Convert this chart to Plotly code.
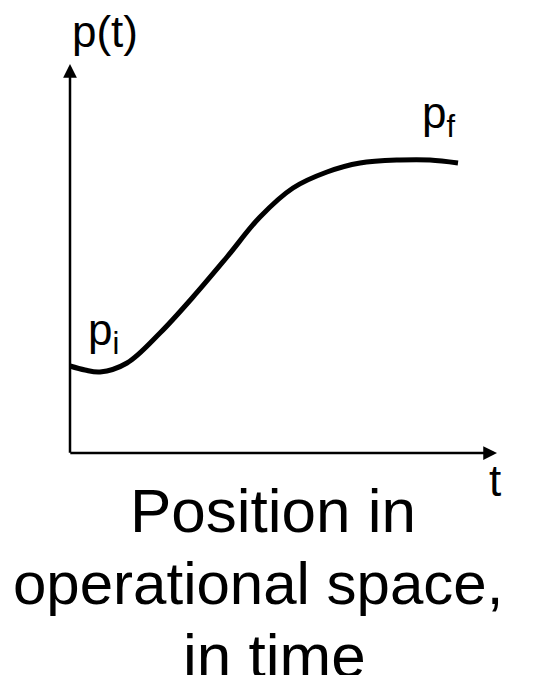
import plotly.graph_objects as go

# curve data (t, p)
t_vals = [0.0, 0.15, 0.30, 0.57, 0.90, 1.23, 1.57, 1.90, 2.23, 2.57, 2.90, 3.30, 3.60, 3.88]
p_vals = [0.87, 0.83, 0.81, 0.90, 1.20, 1.56, 1.96, 2.36, 2.65, 2.81, 2.90, 2.93, 2.93, 2.90]

axis_t_end = 4.27
axis_p_end = 3.89

title_lines = ["Position in", "operational space,", "in time"]

FONT = "Liberation Sans, Arial, sans-serif"

fig = go.Figure()
fig.add_trace(go.Scatter(x=t_vals, y=p_vals, mode="lines",
                         line=dict(color="black", width=5, shape="spline", smoothing=1.0),
                         hoverinfo="skip", showlegend=False))

annotations = []
# axes arrows
annotations.append(dict(x=0, y=axis_p_end, ax=0, ay=-0.012, xref="x", yref="y", axref="x", ayref="y",
                        text="", showarrow=True, arrowhead=2, arrowwidth=2.5, arrowsize=1.1,
                        arrowcolor="black", standoff=0, startstandoff=0))
annotations.append(dict(x=axis_t_end, y=0, ax=-0.012, ay=0, xref="x", yref="y", axref="x", ayref="y",
                        text="", showarrow=True, arrowhead=2, arrowwidth=2.5, arrowsize=1.1,
                        arrowcolor="black", standoff=0, startstandoff=0))
# labels
lab = dict(color="black", size=44, family=FONT)
annotations.append(dict(x=0.35, y=4.22, xref="x", yref="y", text="p(t)", showarrow=False, font=lab))
annotations.append(dict(x=3.68, y=3.37, xref="x", yref="y", text="p<sub>f</sub>", showarrow=False, font=lab))
annotations.append(dict(x=0.33, y=1.20, xref="x", yref="y", text="p<sub>i</sub>", showarrow=False, font=lab))
annotations.append(dict(x=4.25, y=-0.27, xref="x", yref="y", text="t", showarrow=False, font=lab))
# title lines
for line, xx, yy, sz in zip(title_lines, [2.03, 1.88, 2.04], [-0.57, -1.30, -2.02], [62, 60, 62]):
    annotations.append(dict(x=xx, y=yy, xref="x", yref="y", text=line, showarrow=False,
                            font=dict(color="black", size=sz, family=FONT)))

# the page body has an 8px margin, so the figure is 8px smaller than the window
fig.update_layout(
    width=527, height=667,
    margin=dict(l=0, r=0, t=0, b=0),
    paper_bgcolor="white", plot_bgcolor="white",
    xaxis=dict(range=[-0.62, 4.65], visible=False, fixedrange=True),
    yaxis=dict(range=[-2.22, 4.45], visible=False, fixedrange=True),
    annotations=annotations,
    showlegend=False,
)
fig.write_html("out.html", config={"displayModeBar": False})
